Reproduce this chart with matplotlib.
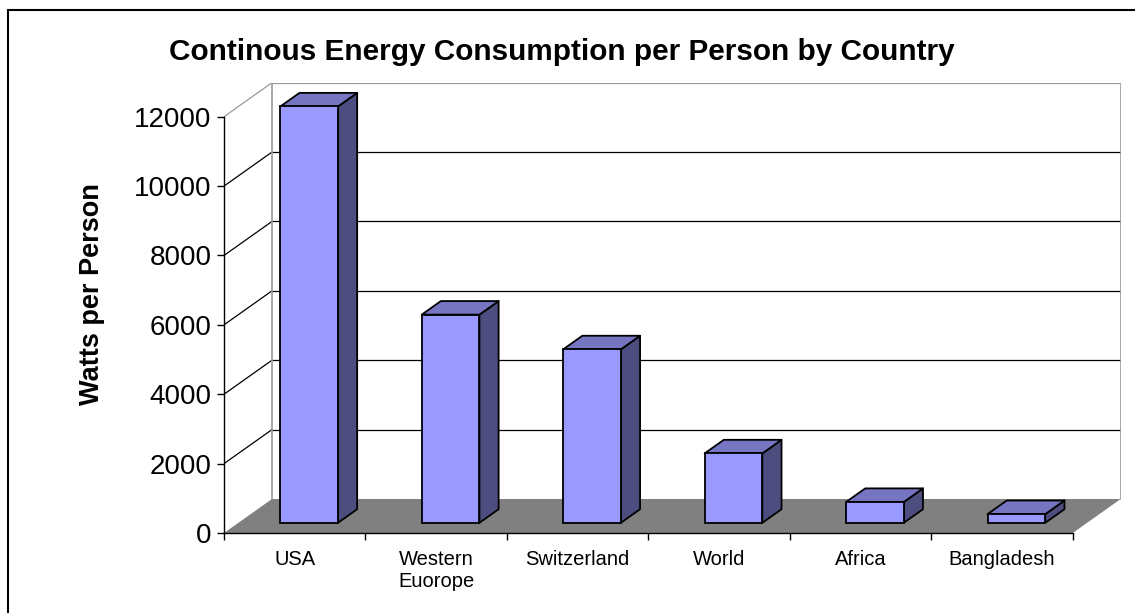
import matplotlib.pyplot as plt
from matplotlib.patches import Polygon, Rectangle

plt.rcParams["font.family"] = ["Liberation Sans", "DejaVu Sans"]

# Chart data
countries = ["USA", "Western\nEuorope", "Switzerland", "World", "Africa", "Bangladesh"]
watts = [12000, 6000, 5000, 2000, 600, 250]
y_ticks = [0, 2000, 4000, 6000, 8000, 10000, 12000]
title = "Continous Energy Consumption per Person by Country"
y_label = "Watts per Person"

# fake 3-D geometry (category units / value units)
DEPTH_X = 0.339
DEPTH_Y = 980
BAR_W = 0.408
BAR_FRONT = 0.30
BAR_BACK = 0.70

FRONT_C = "#9999FF"
TOP_C = "#7575C2"
SIDE_C = "#4D4D80"
FLOOR_C = "#808080"
WALL_C = "#9A9A9A"

W, H = 1135, 613
fig = plt.figure(figsize=(W / 100, H / 100), dpi=100)

# axes: x=0 at px 224, y=0 at px 533, 12000 at px 116.7
left, right = 224, 1120.7
bottom, top = 533, 82.7
ax = fig.add_axes([left / W, (H - bottom) / H, (right - left) / W, (bottom - top) / H])
n = len(countries)
ymax = y_ticks[-1]
ax.set_xlim(0, n + DEPTH_X)
ax.set_ylim(0, ymax + DEPTH_Y)
ax.patch.set_alpha(0)

# floor
ax.add_patch(Polygon([(0, 0), (n, 0), (n + DEPTH_X, DEPTH_Y), (DEPTH_X, DEPTH_Y)],
                     closed=True, facecolor=FLOOR_C, edgecolor="none", zorder=1))

# walls and gridlines
for v in y_ticks[1:]:
    c = WALL_C if v == ymax else "black"
    ax.plot([0, DEPTH_X], [v, v + DEPTH_Y], color=c, lw=0.9, zorder=1.5)
    ax.plot([DEPTH_X, n + DEPTH_X], [v + DEPTH_Y, v + DEPTH_Y], color=c, lw=0.9, zorder=1.5)
ax.plot([DEPTH_X, DEPTH_X], [DEPTH_Y, ymax + DEPTH_Y], color=WALL_C, lw=1.2, zorder=1.5)
ax.plot([n + DEPTH_X, n + DEPTH_X], [DEPTH_Y, ymax + DEPTH_Y], color=WALL_C, lw=1.2, zorder=1.5)

# bars
fx, fy = BAR_FRONT * DEPTH_X, BAR_FRONT * DEPTH_Y
sx, sy = (BAR_BACK - BAR_FRONT) * DEPTH_X, (BAR_BACK - BAR_FRONT) * DEPTH_Y
for i, v in enumerate(watts):
    x0 = i + 0.5 - BAR_W / 2 + fx
    x1 = x0 + BAR_W
    y0, y1 = fy, v + fy
    ax.add_patch(Polygon([(x1, y0), (x1 + sx, y0 + sy), (x1 + sx, y1 + sy), (x1, y1)],
                         facecolor=SIDE_C, edgecolor="black", lw=1.3, zorder=3,
                         joinstyle="round"))
    ax.add_patch(Polygon([(x0, y1), (x1, y1), (x1 + sx, y1 + sy), (x0 + sx, y1 + sy)],
                         facecolor=TOP_C, edgecolor="black", lw=1.3, zorder=3,
                         joinstyle="round"))
    ax.add_patch(Rectangle((x0, y0), BAR_W, v, facecolor=FRONT_C,
                           edgecolor="black", lw=1.3, zorder=3.5))

# axes lines and ticks
for s in ["top", "right"]:
    ax.spines[s].set_visible(False)
ax.spines["left"].set_bounds(0, ymax)
ax.spines["bottom"].set_bounds(0, n)
for s in ["left", "bottom"]:
    ax.spines[s].set_linewidth(1.0)
    ax.spines[s].set_zorder(4)

ax.set_yticks(y_ticks)
ax.set_yticklabels([str(t) for t in y_ticks], fontsize=20)
ax.tick_params(axis="y", length=5, width=1.0, pad=4)

ax.set_xticks(range(n + 1))
ax.set_xticklabels([""] * (n + 1))
ax.tick_params(axis="x", which="major", length=5, width=1.0)

# category labels, centred under each slot
for i, name in enumerate(countries):
    ax.text(i + 0.5, -0.0371, name, transform=ax.get_xaxis_transform(),
            ha="center", va="top", multialignment="center",
            fontsize=14.5, linespacing=1.25)

fig.text(562 / W, 1 - 52 / H, title, ha="center", va="center",
         fontsize=21.4, fontweight="bold")
fig.text(92 / W, 1 - 294 / H, y_label, ha="center", va="center",
         rotation=90, fontsize=19.5, fontweight="bold")

# outer chart frame (runs off right and bottom edges)
fig.patches.append(Rectangle((7.5 / W, -0.1), 1.2, (H - 10.5) / H + 0.1,
                             transform=fig.transFigure, fill=False,
                             edgecolor="black", lw=1.5))

fig.savefig("out.png", dpi=100)
